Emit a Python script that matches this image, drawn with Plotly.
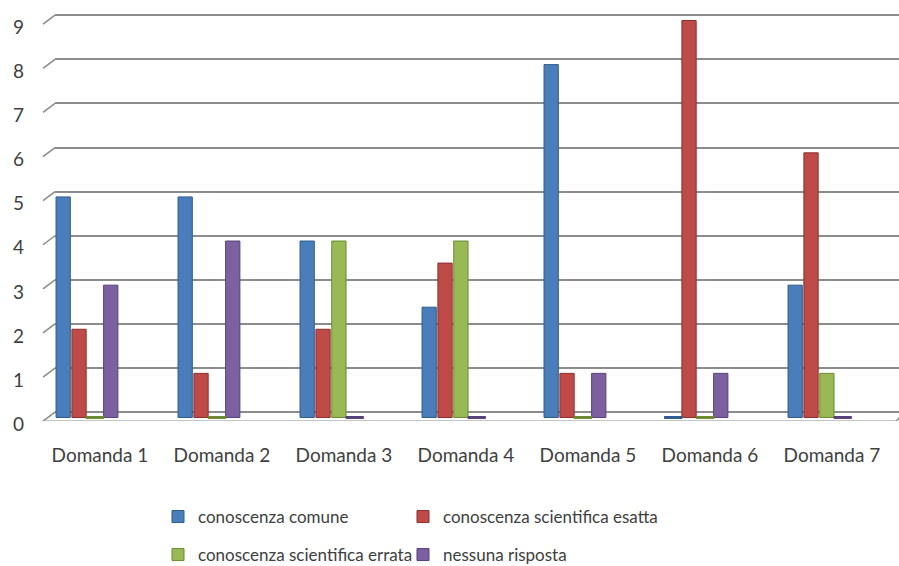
import plotly.graph_objects as go

# Survey results per question
domande = ["Domanda 1", "Domanda 2", "Domanda 3", "Domanda 4", "Domanda 5", "Domanda 6", "Domanda 7"]
comune = [5, 5, 4, 2.5, 8, 0, 3]
sci_esatta = [2, 1, 2, 3.5, 1, 9, 6]
sci_errata = [0, 0, 4, 4, 0, 0, 1]
nessuna = [3, 4, 0, 0, 1, 1, 0]
y_ticks = [0, 1, 2, 3, 4, 5, 6, 7, 8, 9]

# name, values, fill, edge, legend id, legend text x (px), legend row centre y (px)
series = [
    ("conoscenza comune", comune, "#4a7ebb", "#2f5b8e", "legend", 198, 517),
    ("conoscenza scientifica esatta", sci_esatta, "#be4b48", "#8c2f2d", "legend2", 443, 517),
    ("conoscenza scientifica errata", sci_errata, "#98b954", "#6b8a33", "legend3", 198, 555),
    ("nessuna risposta", nessuna, "#7d60a0", "#57417a", "legend4", 443, 555),
]

FONT = "Lato, 'Open Sans', sans-serif"
TEXT = "#404040"
GRID = "#8c8c8c"
W, H = 899, 566
Y_RANGE = [-0.2, 9.05]
DEPTH = 0.12  # cylinders sit mid-depth, a little below the back-wall gridlines

fig = go.Figure()

for name, vals, fill, edge, leg, _, _ in series:
    fig.add_trace(go.Bar(
        x=domande, y=vals, name=name, legend=leg, yaxis="y2",
        marker=dict(color=fill, line=dict(color=edge, width=1)),
        offsetgroup=name,
    ))

# flat discs for zero-valued answers, aligned with the bar slots
for name, vals, fill, edge, leg, _, _ in series:
    zeros = [0 if v == 0 else None for v in vals]
    fig.add_trace(go.Scatter(
        x=domande, y=zeros, mode="markers", showlegend=False, hoverinfo="skip",
        yaxis="y2", offsetgroup=name,
        marker=dict(symbol="line-ew", size=13, line=dict(color=edge, width=3)),
    ))

# perspective stubs of the gridlines and the front edge of the floor
shapes = []
for v in y_ticks:
    shapes.append(dict(
        type="line", xref="paper", xsizemode="pixel", xanchor=0, x0=-12, x1=0,
        yref="y", ysizemode="pixel", yanchor=v, y0=-9, y1=0,
        line=dict(color=GRID, width=1.5),
    ))
shapes.append(dict(
    type="line", xref="paper", xsizemode="pixel", xanchor=0, x0=-12, x1=841,
    yref="y", ysizemode="pixel", yanchor=0, y0=-9, y1=-9,
    line=dict(color=GRID, width=1.5),
))
shapes.append(dict(
    type="line", xref="paper", xsizemode="pixel", xanchor=0, x0=841, x1=846,
    yref="y", ysizemode="pixel", yanchor=0, y0=-9, y1=-4,
    line=dict(color=GRID, width=1.5),
))

legends = {}
for name, vals, fill, edge, leg, tx, ty in series:
    legends[leg] = dict(
        xref="container", yref="container",
        x=(tx - 40) / W, y=1 - ty / H, xanchor="left", yanchor="middle",
        bgcolor="rgba(0,0,0,0)",
        font=dict(family=FONT, size=17, color=TEXT),
    )

fig.update_layout(
    width=W, height=H,
    margin=dict(l=55, r=0, t=13, b=145, autoexpand=False),
    paper_bgcolor="white", plot_bgcolor="white",
    barmode="group", bargap=0.48, bargroupgap=0.1,
    scattermode="group", scattergap=0.48,
    font=dict(family=FONT, size=17, color=TEXT),
    shapes=shapes,
    showlegend=True,
    **legends,
)

fig.update_xaxes(
    type="category", range=[-0.262, 6.656], showgrid=False, showline=False,
    zeroline=False, ticks="", ticklabelshift=13, ticklabelstandoff=21,
    tickfont=dict(family=FONT, size=19, color=TEXT),
)
fig.update_layout(
    yaxis=dict(
        range=Y_RANGE, tickvals=y_ticks, showgrid=True, gridcolor=GRID, gridwidth=1.5,
        zeroline=False, showline=False, ticks="", ticklabelstandoff=30, ticklabelshift=12,
        tickfont=dict(family=FONT, size=19, color=TEXT),
    ),
    yaxis2=dict(
        overlaying="y", range=[Y_RANGE[0] + DEPTH, Y_RANGE[1] + DEPTH],
        visible=False, showgrid=False,
    ),
)

fig.write_html("out.html")
